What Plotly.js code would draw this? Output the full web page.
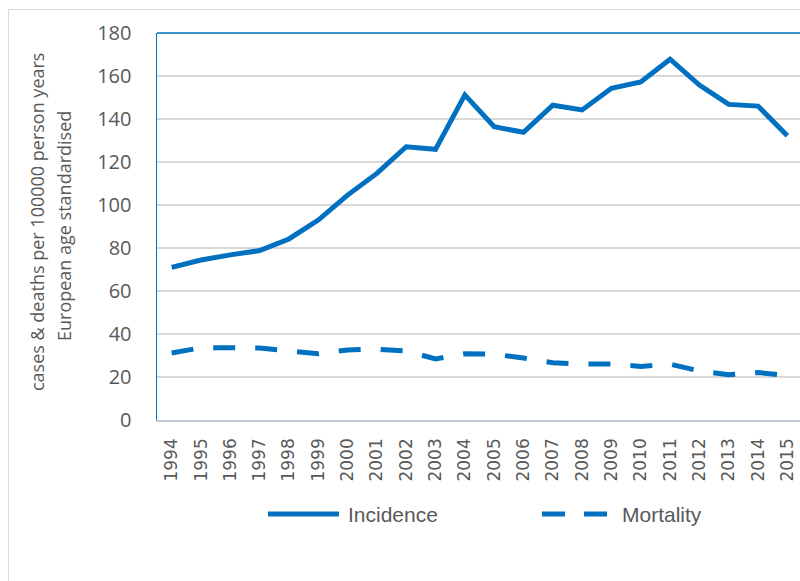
<!DOCTYPE html>
<html>
<head>
<meta charset="utf-8">
<script src="https://cdn.plot.ly/plotly-3.0.1.min.js"></script>
<style>
html,body{margin:0;padding:0;width:800px;height:581px;overflow:hidden;background:#fff;}
#frame{position:absolute;left:8px;top:9px;width:900px;height:700px;border-left:1px solid #D9D9D9;border-top:1px solid #D9D9D9;pointer-events:none;}
#chart{position:absolute;left:0;top:0;}
</style>
</head>
<body>
<div id="chart"></div>
<div id="frame"></div>
<script>
const years = ['1994','1995','1996','1997','1998','1999','2000','2001','2002','2003','2004','2005','2006','2007','2008','2009','2010','2011','2012','2013','2014','2015'];
const incidence = [71.0,74.4,76.8,78.8,84.2,93.0,104.6,114.7,127.1,125.9,151.2,136.4,133.8,146.4,144.2,154.3,157.2,167.8,155.8,146.8,146.0,132.2];
const mortality = [31.2,33.6,33.6,33.5,32.1,30.8,32.6,32.9,32.1,28.4,30.8,30.6,28.8,26.6,26.0,26.1,24.9,26.0,22.8,21.0,22.1,20.7];
const yTicks = [0,20,40,60,80,100,120,140,160,180];
const seriesNames = ['Incidence', 'Mortality'];
const yTitleLines = ['cases & deaths per 100000 person years', 'European age standardised'];

const blue = '#0070C0';
const grey = '#595959';

const traces = [
  {x: years, y: incidence, name: seriesNames[0], type: 'scatter', mode: 'lines',
   line: {color: blue, width: 5}},
  {x: years, y: mortality, name: seriesNames[1], type: 'scatter', mode: 'lines',
   line: {color: blue, width: 5, dash: '22px,20px'}}
];

// plot area: x 157..802, y 33..420 (pixels) -> paper helpers for decoration only
const L = 157, R = 802, T = 33, B = 420;
const px = v => (v - L) / (R - L);
const py = v => (B - v) / (B - T);

const legendFont = {family: 'Liberation Sans, Arial, sans-serif', size: 21, color: grey};
const titleFont = {family: 'Open Sans, sans-serif', size: 18, color: grey};

const layout = {
  width: 810, height: 581,
  margin: {l: L, r: 810 - R, t: T, b: 581 - B},
  paper_bgcolor: 'rgba(0,0,0,0)', plot_bgcolor: '#fff',
  showlegend: false,
  xaxis: {type: 'category', range: [-0.5, 21.5], tickvals: years, ticktext: years,
          tickangle: -90, ticks: '', showgrid: false,
          showline: true, linecolor: '#BFC9D6', linewidth: 1.5,
          ticklabelstandoff: 10,
          tickfont: {family: 'DejaVu Sans, sans-serif', size: 17, color: grey},
          fixedrange: true},
  yaxis: {range: [0, 180], tickvals: yTicks, ticks: '',
          showgrid: true, gridcolor: '#D9D9D9', gridwidth: 1.3,
          showline: true, linecolor: blue, linewidth: 1.5,
          zeroline: false, ticklabelstandoff: 20,
          tickfont: {family: 'Open Sans, sans-serif', size: 20, color: grey},
          fixedrange: true},
  shapes: [
    {type: 'line', xref: 'paper', yref: 'paper', x0: 0, x1: 1, y0: 1, y1: 1,
     line: {color: blue, width: 1.5}},
    {type: 'line', xref: 'paper', yref: 'paper', x0: px(268), x1: px(339), y0: py(514), y1: py(514),
     line: {color: blue, width: 5}},
    {type: 'line', xref: 'paper', yref: 'paper', x0: px(542), x1: px(607), y0: py(514), y1: py(514),
     line: {color: blue, width: 5, dash: '23px,19px'}}
  ],
  annotations: [
    {xref: 'paper', yref: 'paper', x: px(346), y: py(514), xanchor: 'left', yanchor: 'middle',
     text: seriesNames[0], showarrow: false, font: legendFont},
    {xref: 'paper', yref: 'paper', x: px(620), y: py(514), xanchor: 'left', yanchor: 'middle',
     text: seriesNames[1], showarrow: false, font: legendFont},
    {xref: 'paper', yref: 'paper', x: px(37), y: py(222), xanchor: 'center', yanchor: 'middle',
     textangle: -90, text: yTitleLines[0], showarrow: false, font: titleFont},
    {xref: 'paper', yref: 'paper', x: px(64), y: py(226), xanchor: 'center', yanchor: 'middle',
     textangle: -90, text: yTitleLines[1], showarrow: false, font: titleFont}
  ]
};

Plotly.newPlot('chart', traces, layout, {displayModeBar: false, staticPlot: true});
</script>
</body>
</html>
